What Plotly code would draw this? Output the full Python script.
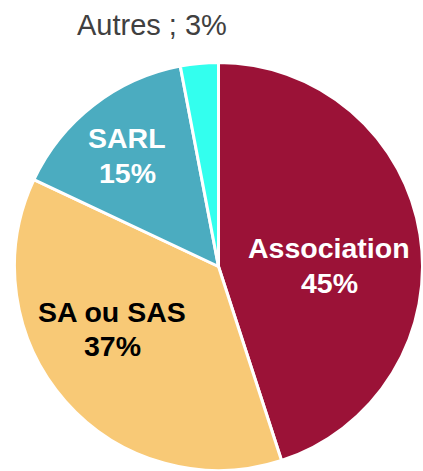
import plotly.graph_objects as go

labels = ["Association", "SA ou SAS", "SARL", "Autres"]
values = [45, 37, 15, 3]
colors = ["#9B1237", "#F8C976", "#4BACC0", "#33FFEE"]
text_colors = ["white", "black", "white", "#404040"]

W, H = 423, 471

# label centres in pixels (name line, percent line)
label_pos = {
    "Association": [(329, 248), (329, 283)],
    "SA ou SAS": [(112, 312), (112, 346)],
    "SARL": [(127, 138), (127, 172.5)],
}
autres_pos = (151.5, 25.5)

# pie circle (pixels): centre & radius
cx, cy, r = 218.5, 266.5, 204


def px(x):
    return min(max(x / W, 0), 1)


def py(y):
    return min(max(1 - y / H, 0), 1)


fig = go.Figure(go.Pie(
    labels=labels, values=values, sort=False, direction="clockwise", rotation=0,
    marker=dict(colors=colors, line=dict(color="white", width=3)),
    textinfo="none",
    domain=dict(x=[px(cx - r), px(cx + r)], y=[py(cy + r), py(cy - r)]),
    showlegend=False, hoverinfo="label+percent",
))

bold = dict(family="Arial, Liberation Sans", size=28.5, weight="bold")
for lab, val, tc in zip(labels, values, text_colors):
    if lab not in label_pos:
        continue
    (x1, y1), (x2, y2) = label_pos[lab]
    for txt, (x, y) in ((lab, (x1, y1)), (f"{val}%", (x2, y2))):
        fig.add_annotation(text=txt, x=px(x), y=py(y), xref="paper", yref="paper",
                           showarrow=False, xanchor="center", yanchor="middle",
                           font=dict(bold, color=tc))

fig.add_annotation(
    text=f"{labels[-1]} ; {values[-1]}%", x=px(autres_pos[0]), y=py(autres_pos[1]),
    xref="paper", yref="paper", showarrow=False, xanchor="center", yanchor="middle",
    font=dict(family="Arial, Liberation Sans", size=29, color=text_colors[-1]),
)
fig.update_layout(width=W, height=H, margin=dict(l=0, r=0, t=0, b=0),
                  paper_bgcolor="white", plot_bgcolor="white")
fig.write_html("out.html", post_script="document.body.style.margin='0';",
               config={"displayModeBar": False})
